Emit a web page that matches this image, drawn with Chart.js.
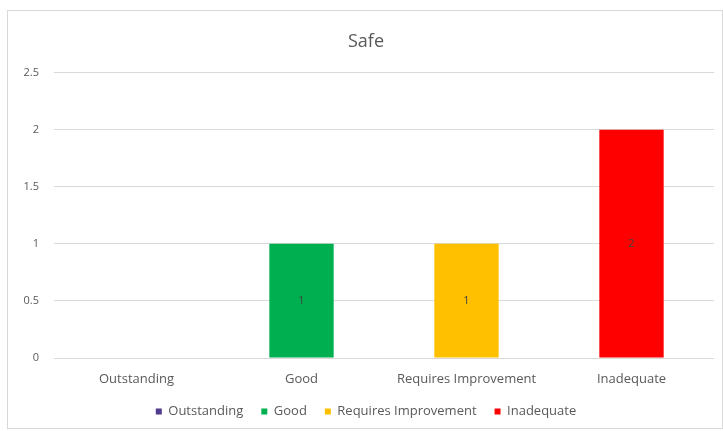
<!DOCTYPE html>
<html>
<head>
    <title>Safe</title>
    <style>
        body { margin: 0; background: #fff; }
        #frame {
            position: absolute; left: 7px; top: 10px;
            width: 714px; height: 417px;
            border: 1px solid #d9d9d9;
            background: #fff;
        }
    </style>
</head>
<body>
<div id="frame">
    <canvas id="safeChart"></canvas>
</div>
<script src="https://cdn.jsdelivr.net/npm/chart.js"></script>
<script>
var categories = ['Outstanding', 'Good', 'Requires Improvement', 'Inadequate'];
var counts = [0, 1, 1, 2];
var barColours = ['#4F3A8C', '#00B050', '#FFC000', '#FF0000'];
var yTicks = [0, 0.5, 1, 1.5, 2, 2.5];

var textGrey = '#595959';
var fontFamily = "'Open Sans', 'Liberation Sans', sans-serif";

// writes the count in the middle of each bar that has one
var barValues = {
    id: 'barValues',
    afterDatasetsDraw: function(chart) {
        var ctx = chart.ctx;
        var meta = chart.getDatasetMeta(0);
        ctx.save();
        ctx.font = '11px ' + fontFamily;
        ctx.fillStyle = '#404040';
        ctx.textAlign = 'center';
        ctx.textBaseline = 'middle';
        meta.data.forEach(function(bar, i) {
            if (!counts[i]) return;
            ctx.fillText(String(counts[i]), bar.x, (bar.y + bar.base) / 2);
        });
        ctx.restore();
    }
};

var ctx = document.getElementById('safeChart').getContext('2d');
window.myChart = new Chart(ctx, {
    type: 'bar',
    data: {
        labels: categories,
        datasets: [{
            label: 'Safe',
            data: counts,
            backgroundColor: barColours,
            categoryPercentage: 1,
            barPercentage: 0.39
        }]
    },
    options: {
        responsive: true,
        maintainAspectRatio: false,
        animation: false,
        layout: { padding: { left: 10, right: 8, top: 0, bottom: 0 } },
        plugins: {
            title: {
                display: true,
                text: 'Safe',
                color: textGrey,
                font: { family: fontFamily, size: 18, weight: 'normal' },
                padding: { top: 20, bottom: 20 }
            },
            legend: {
                position: 'bottom',
                labels: {
                    color: textGrey,
                    font: { family: fontFamily, size: 13 },
                    boxWidth: 6,
                    boxHeight: 6,
                    padding: 18,
                    generateLabels: function(chart) {
                        return categories.map(function(name, i) {
                            return {
                                text: name,
                                fillStyle: barColours[i],
                                strokeStyle: barColours[i],
                                lineWidth: 0,
                                fontColor: textGrey,
                                index: i
                            };
                        });
                    }
                },
                onClick: function() {}
            },
            tooltip: { enabled: false }
        },
        scales: {
            x: {
                grid: { display: false, drawTicks: false },
                border: { display: false },
                afterFit: function(scale) { scale.height = 29; },
                ticks: {
                    color: textGrey,
                    font: { family: fontFamily, size: 13 },
                    padding: 13,
                    maxRotation: 0
                }
            },
            y: {
                min: 0,
                max: 2.5,
                afterBuildTicks: function(scale) {
                    scale.ticks = yTicks.map(function(v) { return { value: v }; });
                },
                afterFit: function(scale) { scale.width = 36; },
                grid: { color: '#d9d9d9', drawTicks: false },
                border: { display: false },
                ticks: {
                    color: textGrey,
                    font: { family: fontFamily, size: 11 },
                    padding: 15,
                    callback: function(value) { return String(value); }
                }
            }
        }
    },
    plugins: [barValues]
});
</script>
</body>
</html>
